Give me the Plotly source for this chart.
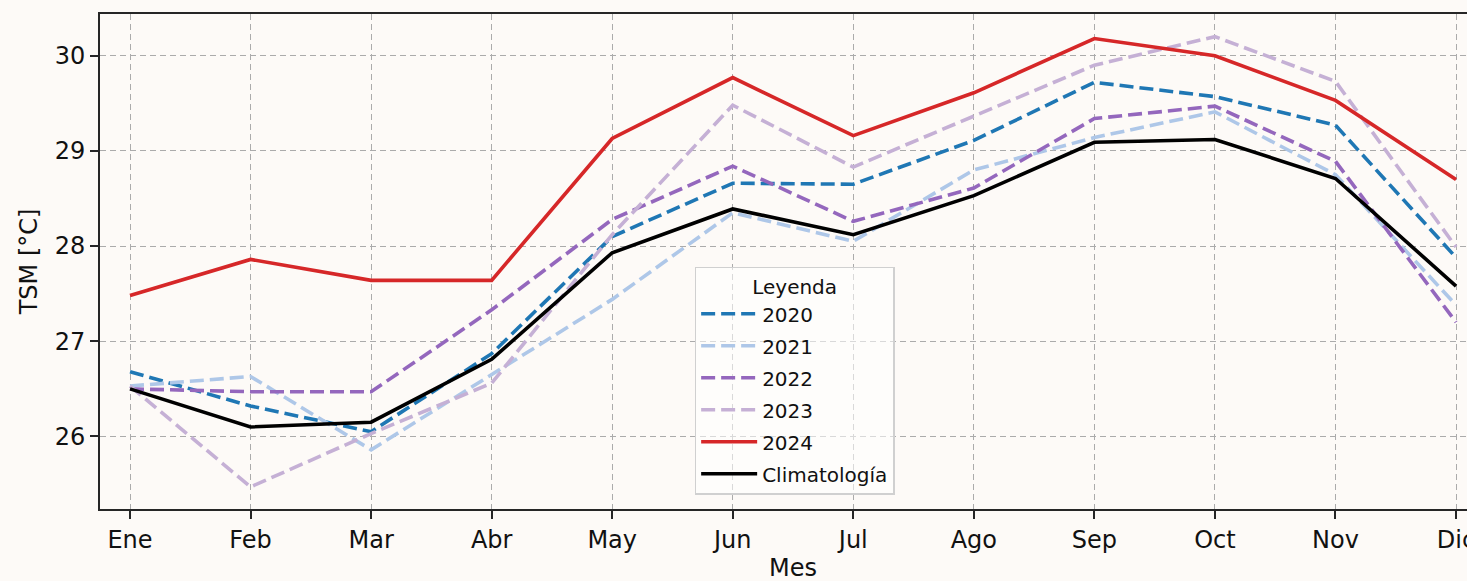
import plotly.graph_objects as go

# Monthly sea surface temperature (TSM) by year plus the climatology
meses = ["Ene", "Feb", "Mar", "Abr", "May", "Jun", "Jul", "Ago", "Sep", "Oct", "Nov", "Dic"]

tsm_2020 = [26.68, 26.32, 26.05, 26.87, 28.10, 28.66, 28.65, 29.11, 29.72, 29.57, 29.27, 27.88]
tsm_2021 = [26.53, 26.63, 25.86, 26.65, 27.44, 28.35, 28.05, 28.80, 29.14, 29.41, 28.75, 27.38]
tsm_2022 = [26.50, 26.47, 26.47, 27.33, 28.28, 28.84, 28.26, 28.61, 29.34, 29.47, 28.89, 27.20]
tsm_2023 = [26.53, 25.47, 26.03, 26.56, 28.12, 29.48, 28.83, 29.36, 29.90, 30.20, 29.73, 27.99]
tsm_2024 = [27.48, 27.86, 27.64, 27.64, 29.13, 29.77, 29.16, 29.61, 30.18, 30.00, 29.53, 28.70]
climatologia = [26.50, 26.10, 26.15, 26.81, 27.93, 28.39, 28.12, 28.53, 29.09, 29.12, 28.71, 27.58]

series = [
    ("2020", tsm_2020, "#1f77b4", "14px,6px"),
    ("2021", tsm_2021, "#aec7e8", "14px,6px"),
    ("2022", tsm_2022, "#9467bd", "14px,6px"),
    ("2023", tsm_2023, "#c5b0d5", "14px,6px"),
    ("2024", tsm_2024, "#d62728", "solid"),
    ("Climatología", climatologia, "#000000", "solid"),
]

fig = go.Figure()
for nombre, valores, color, dash in series:
    fig.add_trace(go.Scatter(
        x=meses, y=valores, mode="lines", name=nombre, legendgroup=nombre,
        line=dict(color=color, width=3.6, dash=dash),
    ))

bg = "#fdfaf7"
font = "DejaVu Sans"
axis_color = "#262626"

fig.update_layout(
    width=1467, height=581,
    margin=dict(l=100, r=0, t=14, b=72),
    paper_bgcolor=bg, plot_bgcolor=bg,
    font=dict(family=font, size=24, color="#111111"),
    showlegend=True,
    legend=dict(
        title=dict(text="Leyenda", side="top center", font=dict(size=20, family=font)),
        font=dict(size=20, family=font, color="#111111"),
        x=0.435, y=0.4895, xanchor="left", yanchor="top",
        bgcolor="rgba(255,255,255,0.55)", bordercolor="#d0d0d0", borderwidth=1.5,
        itemwidth=56, tracegroupgap=3, traceorder="grouped",
    ),
    xaxis=dict(
        type="category", range=[-0.249, 11.091], automargin=False,
        showline=True, linecolor=axis_color, linewidth=1.6, mirror=True,
        ticks="outside", ticklen=8, tickwidth=1.5, tickcolor=axis_color,
        showgrid=True, gridcolor="#ababab", gridwidth=1.2, griddash="6px,4px",
        tickfont=dict(size=24, family=font, color="#111111"),
        zeroline=False,
    ),
    yaxis=dict(
        range=[25.238, 30.438], tickvals=[26, 27, 28, 29, 30], automargin=False,
        showline=True, linecolor=axis_color, linewidth=1.6, mirror=False,
        ticks="outside", ticklen=8, tickwidth=1.5, tickcolor=axis_color,
        showgrid=True, gridcolor="#ababab", gridwidth=1.2, griddash="6px,4px",
        tickfont=dict(size=24, family=font, color="#111111"),
        title=dict(text="TSM [°C]", font=dict(size=24, family=font, color="#111111"), standoff=10),
        zeroline=False,
    ),
    annotations=[dict(
        text="Mes", xref="paper", yref="paper", x=0.507, y=-0.1192,
        xanchor="center", yanchor="middle", showarrow=False,
        font=dict(size=24, family=font, color="#111111"),
    )],
)

fig.write_html("out.html")
